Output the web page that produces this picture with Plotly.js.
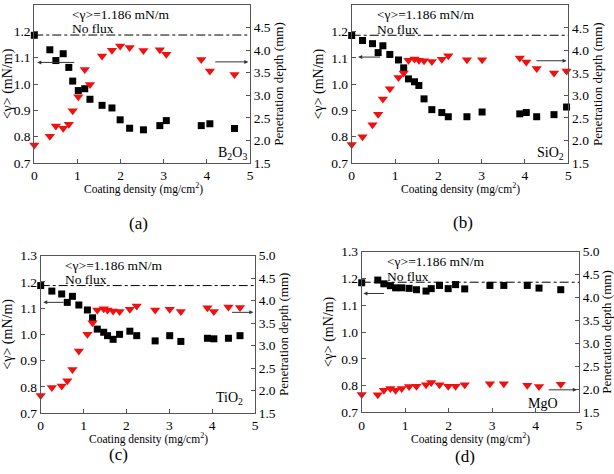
<!DOCTYPE html>
<html>
<head>
<meta charset="utf-8">
<script src="https://cdn.plot.ly/plotly-3.0.1.min.js"></script>
<style>html,body{margin:0;padding:0;background:#fff}#chart{width:614px;height:474px}</style>
</head>
<body>
<div id="chart"></div>
<script>
// Panel (a) B2O3
const xA = [0, 0.36, 0.50, 0.67, 0.80, 0.89, 1.02, 1.17, 1.29, 1.57, 1.80, 1.99, 2.21, 2.53, 2.91, 3.06, 3.87, 4.07, 4.64];
const gammaA = [1.185, 1.130, 1.089, 1.115, 1.063, 1.011, 0.975, 0.982, 0.942, 0.919, 0.909, 0.864, 0.832, 0.826, 0.842, 0.861, 0.842, 0.849, 0.831];
const depthA = [1.90, 2.09, 2.32, 2.27, 2.36, 2.66, 2.97, 3.57, 3.24, 3.87, 4.00, 4.09, 4.06, 3.99, 4.01, 3.91, 3.79, 3.54, 3.46];
// Panel (b) SiO2
const xB = [0, 0.25, 0.48, 0.61, 0.72, 0.88, 1.08, 1.20, 1.31, 1.45, 1.55, 1.67, 1.85, 2.08, 2.23, 2.66, 3.01, 3.88, 4.03, 4.27, 4.67, 4.96];
const gammaB = [1.185, 1.166, 1.154, 1.120, 1.146, 1.113, 1.092, 1.062, 1.020, 1.009, 0.995, 0.944, 0.903, 0.892, 0.876, 0.876, 0.894, 0.887, 0.892, 0.876, 0.884, 0.913];
const depthB = [1.91, 2.08, 2.35, 2.58, 2.92, 3.15, 3.40, 3.50, 3.78, 3.81, 3.78, 3.77, 3.75, 3.80, 3.88, 3.79, 3.79, 3.83, 3.74, 3.60, 3.50, 3.54];
// Panel (c) TiO2
const xC = [0, 0.26, 0.49, 0.62, 0.74, 0.89, 1.09, 1.21, 1.32, 1.47, 1.56, 1.69, 1.84, 2.08, 2.24, 2.67, 3.01, 3.27, 3.89, 4.04, 4.38, 4.65];
const gammaC = [1.186, 1.165, 1.154, 1.122, 1.145, 1.112, 1.093, 1.063, 1.020, 1.008, 0.995, 0.981, 1.000, 1.012, 0.995, 0.975, 0.995, 0.973, 0.985, 0.983, 0.985, 0.995];
const depthC = [1.89, 2.07, 2.10, 2.22, 2.47, 2.88, 3.25, 3.51, 3.79, 3.82, 3.79, 3.77, 3.76, 3.81, 3.88, 3.79, 3.81, 3.76, 3.84, 3.76, 3.86, 3.85];
// Panel (d) MgO
const xD = [0, 0.37, 0.51, 0.66, 0.78, 0.92, 1.09, 1.26, 1.48, 1.60, 1.79, 1.99, 2.16, 2.37, 2.95, 3.27, 3.81, 4.08, 4.58];
const gammaD = [1.184, 1.194, 1.180, 1.173, 1.165, 1.165, 1.163, 1.158, 1.153, 1.162, 1.174, 1.162, 1.177, 1.161, 1.174, 1.174, 1.174, 1.164, 1.158];
const depthD = [1.89, 1.88, 1.98, 2.02, 1.98, 2.02, 2.06, 2.07, 2.10, 2.15, 2.10, 2.07, 2.07, 2.10, 2.12, 2.12, 2.09, 2.06, 2.11];

const panelLabels = ['(a)', '(b)', '(c)', '(d)'];
const fluxLabels = ['B<sub>2</sub>O<sub>3</sub>', 'SiO<sub>2</sub>', 'TiO<sub>2</sub>', 'MgO'];
const xTitle = 'Coating density (mg/cm<sup>2</sup>)';
const noFluxGamma = 1.186;

const FONT = '"Liberation Serif", "Times New Roman", serif';
const AX = '#555';
const RED = '#f01010';

const panels = [
  {x: xA, g: gammaA, d: depthA},
  {x: xB, g: gammaB, d: depthB},
  {x: xC, g: gammaC, d: depthC},
  {x: xD, g: gammaD, d: depthD}
];

const xDomains = [[34.3/614, 250/614], [351.7/614, 568.3/614], [40.7/614, 255/614], [361.7/614, 579/614]];
const yDomains = [[1-163/474, 1-5/474], [1-163/474, 1-5.3/474], [1-413/474, 1-255.7/474], [1-412.3/474, 1-251.7/474]];

const traces = [];
const layout = {
  width: 614, height: 474,
  margin: {l: 0, r: 0, t: 0, b: 0},
  paper_bgcolor: '#fff', plot_bgcolor: '#fff',
  showlegend: false,
  font: {family: FONT, size: 13, color: '#000'},
  shapes: [], annotations: []
};

const arrowsL = [[0.07, 0.96, 1.082], [0.15, 0.69, 1.103], [0.06, 0.57, 1.122], [0.04, 0.55, 1.144]];
const arrowsR = [[4.16, 4.96, 1.084], [4.23, 4.96, 1.089], [4.43, 4.96, 1.084], [4.27, 4.95, 0.784]];
const textX = [0.83, 0.54, 0.51, 0.54];
const labelPos = [[4.6, 0.735], [4.58, 0.735], [4.4, 0.757], [4.18, 0.733]];
const panelLabelPx = [[138, 223], [463, 222], [118, 454], [465, 456]];
const xTitlePx = [[143, 188], [460, 188], [148, 438], [470, 438]];

panels.forEach((p, i) => {
  const n = i + 1;
  const xa = 'x' + (n === 1 ? '' : n);
  const yl = 'y' + (2*n - 1 === 1 ? '' : 2*n - 1);
  const yr = 'y' + (2*n);
  traces.push({x: p.x, y: p.g, xaxis: xa, yaxis: yl, type: 'scatter', mode: 'markers',
    marker: {symbol: 'square', size: 7, color: '#000'}, cliponaxis: false});
  traces.push({x: p.x, y: p.d, xaxis: xa, yaxis: yr, type: 'scatter', mode: 'markers',
    marker: {symbol: 'triangle-down', size: 9, color: RED}, cliponaxis: false});

  const xKey = 'xaxis' + (n === 1 ? '' : n);
  const ylKey = 'yaxis' + (2*n - 1 === 1 ? '' : 2*n - 1);
  const yrKey = 'yaxis' + (2*n);
  layout[xKey] = {
    domain: xDomains[i], anchor: yl, range: [0, 5], dtick: 1, tick0: 0,
    showline: true, linecolor: AX, linewidth: 1, mirror: true,
    ticks: 'inside', ticklen: 4, tickcolor: AX, showgrid: false, zeroline: false,
    tickfont: {family: FONT, size: 13.5}, ticklabelstandoff: 0
  };
  layout[ylKey] = {
    domain: yDomains[i], anchor: xa, range: [0.7, 1.3], dtick: 0.1, tick0: 0.7, tickformat: '.1f',
    showline: true, linecolor: AX, linewidth: 1,
    ticks: 'inside', ticklen: 4, tickcolor: AX, showgrid: false, zeroline: false,
    tickfont: {family: FONT, size: 13.5},
    title: {text: '&lt;γ&gt; (mN/m)', font: {family: FONT, size: 14}, standoff: 4}
  };
  layout[yrKey] = {
    domain: yDomains[i], anchor: xa, overlaying: yl, side: 'right', range: [1.5, 5.0], dtick: 0.5, tick0: 1.5, tickformat: '.1f',
    showline: true, linecolor: AX, linewidth: 1,
    ticks: 'inside', ticklen: 4, tickcolor: AX, showgrid: false, zeroline: false,
    tickfont: {family: FONT, size: 13.5},
    title: {text: 'Penetration depth (mm)', font: {family: FONT, size: 13}, standoff: 4}
  };

  layout.shapes.push({type: 'line', xref: xa, yref: yl, x0: 0, x1: 5, y0: noFluxGamma, y1: noFluxGamma,
    line: {color: '#000', width: 1, dash: 'dashdot'}});

  layout.annotations.push({xref: 'paper', yref: 'paper', x: xTitlePx[i][0]/614, y: 1 - xTitlePx[i][1]/474,
    xanchor: 'center', yanchor: 'middle', text: xTitle, showarrow: false, font: {family: FONT, size: 11.5}});
  layout.annotations.push({xref: xa, yref: yl, x: textX[i], y: 1.264, xanchor: 'left', yanchor: 'middle',
    text: '&lt;γ&gt;=1.186 mN/m', showarrow: false, font: {family: FONT, size: 13.5}});
  layout.annotations.push({xref: xa, yref: yl, x: textX[i], y: 1.209, xanchor: 'left', yanchor: 'middle',
    text: 'No flux', showarrow: false, font: {family: FONT, size: 13.5}});
  layout.annotations.push({xref: xa, yref: yl, x: labelPos[i][0], y: labelPos[i][1], xanchor: 'center', yanchor: 'middle',
    text: fluxLabels[i], showarrow: false, font: {family: FONT, size: 14}});
  const aL = arrowsL[i], aR = arrowsR[i];
  layout.annotations.push({xref: xa, yref: yl, axref: xa, ayref: yl, x: aL[0], y: aL[2], ax: aL[1], ay: aL[2],
    text: '', showarrow: true, arrowhead: 2, arrowsize: 0.8, arrowwidth: 1, arrowcolor: '#333', standoff: 0, startstandoff: 0});
  layout.annotations.push({xref: xa, yref: yl, axref: xa, ayref: yl, x: aR[1], y: aR[2], ax: aR[0], ay: aR[2],
    text: '', showarrow: true, arrowhead: 2, arrowsize: 0.8, arrowwidth: 1, arrowcolor: '#333', standoff: 0, startstandoff: 0});
  layout.annotations.push({xref: 'paper', yref: 'paper', x: panelLabelPx[i][0]/614, y: 1 - panelLabelPx[i][1]/474,
    xanchor: 'center', yanchor: 'middle', text: panelLabels[i], showarrow: false, font: {family: FONT, size: 17}});
});

Plotly.newPlot('chart', traces, layout, {displayModeBar: false, staticPlot: true});
</script>
</body>
</html>
